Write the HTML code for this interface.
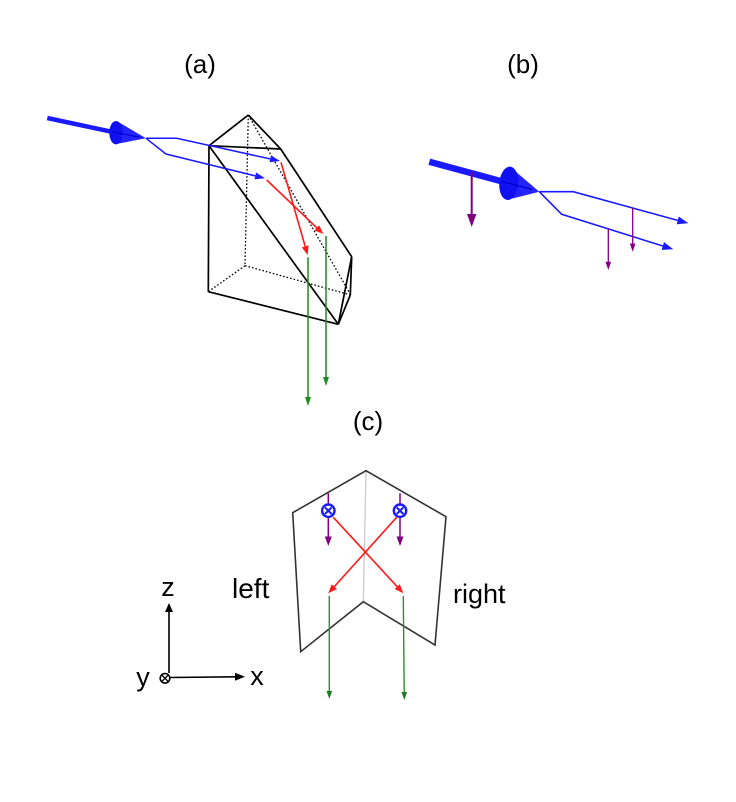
<!DOCTYPE html>
<html>
<head>
<meta charset="utf-8">
<style>
  html, body { margin: 0; padding: 0; background: #ffffff; }
  svg { display: block; }
  text { font-family: "Liberation Sans", "DejaVu Sans", sans-serif; fill: #000; }
</style>
</head>
<body>
<svg width="736" height="802" viewBox="0 0 736 802" xmlns="http://www.w3.org/2000/svg">
  <rect width="736" height="802" fill="#ffffff"/>

  <!-- Labels -->
  <text x="200" y="73" font-size="26" text-anchor="middle">(a)</text>
  <text x="523" y="73" font-size="26" text-anchor="middle">(b)</text>
  <text x="368" y="430" font-size="26" text-anchor="middle">(c)</text>

  <!-- ================= (a) ================= -->
  <g stroke="#000" stroke-width="1.3" stroke-dasharray="1.6,2" fill="none">
    <line x1="248.3" y1="115" x2="245" y2="265.7"/>
    <line x1="245" y1="265.7" x2="208.3" y2="291.7"/>
    <line x1="245" y1="265.7" x2="350.7" y2="295"/>
    <line x1="248.3" y1="115" x2="350.7" y2="295"/>
  </g>
  <g stroke="#000" stroke-width="1.7" fill="none" stroke-linejoin="round">
    <line x1="248.3" y1="115" x2="209" y2="145.7"/>
    <line x1="248.3" y1="115" x2="280.7" y2="149"/>
    <line x1="209" y1="145.7" x2="280.7" y2="149"/>
    <line x1="280.7" y1="149" x2="351.7" y2="256.7"/>
    <line x1="209" y1="145.7" x2="208.3" y2="291.7"/>
    <line x1="208.3" y1="291.7" x2="338.3" y2="324.3"/>
    <line x1="209" y1="145.7" x2="338.3" y2="324.3"/>
    <line x1="351.7" y1="256.7" x2="350.3" y2="295"/>
    <line x1="350.3" y1="295" x2="338.3" y2="324.3"/>
    <line x1="351.7" y1="256.7" x2="338.3" y2="324.3"/>
  </g>

  <line x1="47.3" y1="118" x2="116" y2="132.7" stroke="#1a1aff" stroke-width="4.5"/>
  <polygon points="117,121.2 146,138.3 115,144.2" fill="#2424ff"/>
  <ellipse cx="116" cy="132.7" rx="6.7" ry="11.7" fill="#1010f0"/>
  <line x1="112" y1="131.8" x2="140" y2="137.3" stroke="#0000c8" stroke-width="1.2"/>

  <g stroke="#1a1aff" stroke-width="1.5" fill="none">
    <polyline points="146,138.3 176.7,138.3 270.2,158.9"/>
    <polyline points="146,138.3 166,154 255.3,175.9"/>
  </g>
  <polygon points="269.49,162.27 270.99,155.43 280,161" fill="#1a1aff"/>
  <polygon points="254.46,179.32 256.12,172.52 265,178.3" fill="#1a1aff"/>

  <g stroke="#ff1a1a" stroke-width="1.6" fill="none">
    <line x1="281" y1="162.3" x2="305.2" y2="246.4"/>
    <line x1="266.7" y1="180" x2="316.8" y2="227.8"/>
  </g>
  <polygon points="301.84,247.32 308.56,245.38 307.7,255" fill="#ff1a1a"/>
  <polygon points="314.36,230.32 319.2,225.26 323.3,234" fill="#ff1a1a"/>

  <g stroke="#1e8c1e" stroke-width="1.5" fill="none">
    <line x1="308" y1="257.3" x2="308" y2="398"/>
    <line x1="326" y1="236" x2="326" y2="378"/>
  </g>
  <polygon points="305,397 311,397 308,406" fill="#1e8c1e"/>
  <polygon points="323,377 329,377 326,386" fill="#1e8c1e"/>

  <!-- ================= (b) ================= -->
  <line x1="429.3" y1="161.7" x2="508.8" y2="183.3" stroke="#1a1aff" stroke-width="6.5"/>
  <line x1="471.7" y1="172" x2="471.7" y2="216" stroke="#800080" stroke-width="2"/>
  <polygon points="467,214 476.4,214 471.7,227" fill="#800080"/>
  <polygon points="510,166.7 539.3,191.7 506.7,200" fill="#2424ff"/>
  <ellipse cx="508.8" cy="183.3" rx="9.5" ry="16.7" fill="#1010f0" transform="rotate(5 508.8 183.3)"/>
  <line x1="502" y1="181.5" x2="532" y2="189.5" stroke="#0000c8" stroke-width="1.2"/>

  <g stroke="#1a1aff" stroke-width="1.6" fill="none">
    <polyline points="539.3,191.7 573.3,191.7 677.7,220.4"/>
    <polyline points="539.3,191.7 561.7,214.3 662.8,246"/>
  </g>
  <polygon points="676.64,224.25 678.76,216.53 688.3,223.3" fill="#1a1aff"/>
  <polygon points="661.6,249.82 664,242.18 673.3,249.3" fill="#1a1aff"/>

  <g stroke="#800080" stroke-width="1.3" fill="none">
    <line x1="632.7" y1="208" x2="632.7" y2="245"/>
    <line x1="608.3" y1="229" x2="608.3" y2="263"/>
  </g>
  <polygon points="629.9,243.5 635.5,243.5 632.7,251.7" fill="#800080"/>
  <polygon points="605.5,261.8 611.1,261.8 608.3,270" fill="#800080"/>

  <!-- ================= (c) ================= -->
  <line x1="366" y1="470.7" x2="363.3" y2="601.7" stroke="#d0d0d0" stroke-width="1.5"/>
  <polygon points="292.7,512.7 366,470.7 446,516.7 435,645 363.3,601.7 300.7,651.7 292.7,512.7"
           fill="none" stroke="#333" stroke-width="1.6" stroke-linejoin="miter"/>

  <g stroke="#800080" stroke-width="1.5" fill="none">
    <line x1="328.3" y1="493.3" x2="328.3" y2="538"/>
    <line x1="400" y1="493.3" x2="400" y2="538"/>
  </g>
  <polygon points="324.8,536.5 331.8,536.5 328.3,546" fill="#800080"/>
  <polygon points="396.5,536.5 403.5,536.5 400,546" fill="#800080"/>

  <g stroke="#ff1a1a" stroke-width="1.6" fill="none">
    <line x1="333.3" y1="517.3" x2="397.2" y2="586.7"/>
    <line x1="396.7" y1="517.3" x2="334.3" y2="586.6"/>
  </g>
  <polygon points="394.62,589.05 399.78,584.31 403.3,593.3" fill="#ff1a1a"/>
  <polygon points="331.72,584.26 336.92,588.94 328.3,593.3" fill="#ff1a1a"/>

  <g stroke="#1a1aff" stroke-width="2.4" fill="#ffffff">
    <circle cx="328.3" cy="510.7" r="6.2"/>
    <circle cx="400" cy="510.7" r="6.2"/>
  </g>
  <g stroke="#1a1aff" stroke-width="2">
    <line x1="325" y1="507.4" x2="331.6" y2="514"/>
    <line x1="331.6" y1="507.4" x2="325" y2="514"/>
    <line x1="396.7" y1="507.4" x2="403.3" y2="514"/>
    <line x1="403.3" y1="507.4" x2="396.7" y2="514"/>
  </g>

  <g stroke="#2e8f2e" stroke-width="1.4" fill="none">
    <line x1="329.3" y1="596" x2="329.3" y2="692"/>
    <line x1="403.3" y1="596" x2="404.2" y2="693"/>
  </g>
  <polygon points="326.5,691 332.1,691 329.3,699" fill="#1e7a1e"/>
  <polygon points="401.5,692 407.1,692 404.3,700" fill="#1e7a1e"/>

  <text x="232" y="598" font-size="28">left</text>
  <text x="453" y="603" font-size="27">right</text>

  <!-- Axes -->
  <line x1="169" y1="673" x2="169" y2="611" stroke="#000" stroke-width="1.6"/>
  <polygon points="165,612 173,612 169,603" fill="#000"/>
  <line x1="170.5" y1="677.5" x2="236" y2="676.8" stroke="#000" stroke-width="1.6"/>
  <polygon points="235,672.8 235,680.8 245,676.7" fill="#000"/>
  <circle cx="165" cy="678.3" r="4.8" fill="#fff" stroke="#000" stroke-width="1.6"/>
  <line x1="161.8" y1="675.1" x2="168.2" y2="681.5" stroke="#000" stroke-width="1.3"/>
  <line x1="168.2" y1="675.1" x2="161.8" y2="681.5" stroke="#000" stroke-width="1.3"/>
  <text x="168" y="596" font-size="27" text-anchor="middle">z</text>
  <text x="143" y="686" font-size="27" text-anchor="middle">y</text>
  <text x="257" y="685" font-size="27" text-anchor="middle">x</text>
</svg>
</body>
</html>
